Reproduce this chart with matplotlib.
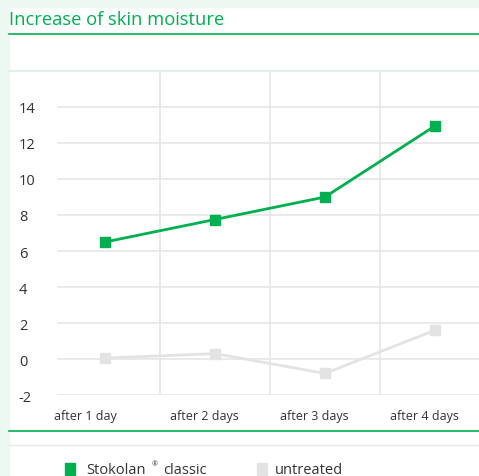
import matplotlib
matplotlib.use("Agg")
import matplotlib.pyplot as plt
from matplotlib.lines import Line2D
from matplotlib.patches import Rectangle
import matplotlib.transforms as mtransforms

categories = ["after 1 day", "after 2 days", "after 3 days", "after 4 days"]
stokolan = [6.5, 7.75, 9.0, 12.95]
untreated = [0.05, 0.3, -0.8, 1.6]
yticks = [-2, 0, 2, 4, 6, 8, 10, 12, 14]

GREEN = "#00b050"
LGREY = "#e3e3e3"
MINT = "#eef8f3"
TEXT = "#333333"
FONT = ["Open Sans", "DejaVu Sans"]
plt.rcParams["font.family"] = FONT

W, H = 479, 477
fig = plt.figure(figsize=(W / 100, H / 100), dpi=100)
fig.patch.set_facecolor("white")

def fx(px):
    return px / W

def fy(py):
    return 1 - py / H

# mint background strips
fig.add_artist(Rectangle((0, 0), fx(9), 1, transform=fig.transFigure, color=MINT, zorder=0))
fig.add_artist(Rectangle((0, fy(8)), 1, 1 - fy(8), transform=fig.transFigure, color=MINT, zorder=0))

# title and lines
fig.text(fx(9), fy(20), "Increase of skin moisture", color=GREEN, fontsize=13.2,
         va="center", ha="left")
fig.add_artist(Line2D([fx(9), 1], [fy(35), fy(35)], transform=fig.transFigure, color=GREEN, lw=1.2))
fig.add_artist(Line2D([fx(9), 1], [fy(72), fy(72)], transform=fig.transFigure, color="#dff2e9", lw=1.5))
fig.add_artist(Line2D([fx(9), 1], [fy(432), fy(432)], transform=fig.transFigure, color=GREEN, lw=1.2))
fig.add_artist(Line2D([fx(9), 1], [fy(446), fy(446)], transform=fig.transFigure, color="#e8e8e8", lw=1.0))

# axes: x 57..479, y 72..396
ax = fig.add_axes([fx(57), fy(396), fx(479) - fx(57), fy(72) - fy(396)])
ax.set_facecolor("white")
x = list(range(len(categories)))
ax.set_xlim(-0.436, 3.4)
ax.set_ylim(-2, 16)

for v in yticks:
    ax.axhline(v, color="#e6e6e6", lw=1.2, zorder=1)
for v in [0.5, 1.5, 2.5]:
    ax.axvline(v, color="#e6e6e6", lw=1.2, zorder=1)

ax.plot(x, untreated, color=LGREY, lw=2.0, marker="s", markersize=7, zorder=3)
ax.plot(x, stokolan, color=GREEN, lw=2.0, marker="s", markersize=7, zorder=4)

for s in ax.spines.values():
    s.set_visible(False)
ax.set_yticks(yticks)
ax.set_yticklabels([str(v) for v in yticks], color=TEXT, fontsize=10.5, ha="left")
ax.tick_params(axis="y", length=0, pad=27.5)
ax.set_xticks(x)
ax.set_xticklabels(categories, color=TEXT, fontsize=9)
ax.tick_params(axis="x", length=0, pad=10)
label_shift_px = [-20, -11, -11, -11]
for lab, sh in zip(ax.get_xticklabels(), label_shift_px):
    offset = mtransforms.ScaledTranslation(sh / 100, 0, fig.dpi_scale_trans)
    lab.set_transform(lab.get_transform() + offset)

# legend
fig.add_artist(Rectangle((fx(65), fy(476)), fx(10), fy(464) - fy(476), transform=fig.transFigure,
                         color=GREEN, zorder=5))
fig.text(fx(86), fy(471), "Stokolan", color=TEXT, fontsize=10.5, va="center", ha="left")
fig.text(fx(152), fy(465), "®", color=TEXT, fontsize=5, va="center", ha="left")
fig.text(fx(163), fy(471), "classic", color=TEXT, fontsize=10.5, va="center", ha="left")
fig.add_artist(Rectangle((fx(257), fy(476)), fx(10), fy(464) - fy(476), transform=fig.transFigure,
                         color=LGREY, zorder=5))
fig.text(fx(275), fy(471), "untreated", color=TEXT, fontsize=10.5, va="center", ha="left")

fig.savefig("out.png", dpi=100)
